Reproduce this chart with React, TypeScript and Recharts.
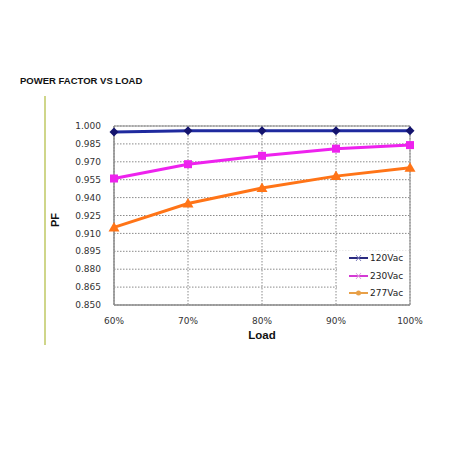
import React from 'react';
import { LineChart, Line, XAxis, YAxis, CartesianGrid, ReferenceArea } from 'recharts';

const loads = ['60%', '70%', '80%', '90%', '100%'];
const pf120 = [0.995, 0.996, 0.996, 0.996, 0.996];
const pf230 = [0.956, 0.968, 0.975, 0.981, 0.984];
const pf277 = [0.915, 0.935, 0.948, 0.958, 0.965];
const yTicks = [0.85, 0.865, 0.88, 0.895, 0.91, 0.925, 0.94, 0.955, 0.97, 0.985, 1.0];

const series = [
  { key: 'v120', name: '120Vac', legendColor: '#2a2a80' },
  { key: 'v230', name: '230Vac', legendColor: '#d43ad4' },
  { key: 'v277', name: '277Vac', legendColor: '#e8a048' },
];

const data = loads.map((load, i) => ({ load, v120: pf120[i], v230: pf230[i], v277: pf277[i] }));

const FONT = '"Liberation Sans", Arial, sans-serif';
const TICK_FONT = '"DejaVu Sans", sans-serif';

// marker shapes per series
const Diamond = (p: any) => {
  const { cx, cy } = p;
  if (cx == null || cy == null) return null;
  return <path key={p.index} d={`M${cx},${cy - 4.5}L${cx + 4.5},${cy}L${cx},${cy + 4.5}L${cx - 4.5},${cy}Z`} fill="#14146e" />;
};
const Square = (p: any) => {
  const { cx, cy } = p;
  if (cx == null || cy == null) return null;
  return <rect key={p.index} x={cx - 4} y={cy - 4} width={8} height={8} fill="#ee22ee" />;
};
const Triangle = (p: any) => {
  const { cx, cy } = p;
  if (cx == null || cy == null) return null;
  return <path key={p.index} d={`M${cx},${cy - 5.5}L${cx + 5.5},${cy + 4}L${cx - 5.5},${cy + 4}Z`} fill="#ff7417" />;
};

const LegendBox = () => (
  <div style={{ position: 'absolute', left: 337, top: 251, background: '#fff', width: 72, height: 52, fontFamily: TICK_FONT, fontSize: 9, color: '#222' }}>
    {series.map((s, i) => (
      <div key={s.key} style={{ position: 'absolute', left: 12, top: 2 + i * 17.5, display: 'flex', alignItems: 'center' }}>
        <svg width={20} height={10}>
          <line x1={0} y1={5} x2={19} y2={5} stroke={s.legendColor} strokeWidth={2} />
          {i === 2 ? (
            <circle cx={9.5} cy={5} r={2.5} fill={s.legendColor} />
          ) : (
            <path d="M7,2L12,8M12,2L7,8" stroke={i === 0 ? '#8080c0' : '#e0a0e0'} strokeWidth={1} />
          )}
        </svg>
        <span style={{ marginLeft: 1 }}>{s.name}</span>
      </div>
    ))}
  </div>
);

export default function App() {
  return (
    <div style={{ position: 'absolute', left: 0, top: 0, width: 458, height: 458, background: '#fff' }}>
      <div style={{ position: 'absolute', left: 20, top: 75, fontFamily: FONT, fontWeight: 'bold', fontSize: 9.5, color: '#111' }}>
        POWER FACTOR VS LOAD
      </div>
      <div style={{ position: 'absolute', left: 44, top: 96, width: 1.5, height: 249, background: '#cfd68a' }} />
      <div
        style={{
          position: 'absolute', left: 47, top: 213, width: 16, height: 14, fontFamily: FONT, fontWeight: 'bold',
          fontSize: 11, color: '#111', transform: 'rotate(-90deg)', textAlign: 'center', lineHeight: '14px',
        }}
      >
        PF
      </div>
      <div style={{ position: 'absolute', left: 245, top: 329, width: 34, textAlign: 'center', fontFamily: FONT, fontWeight: 'bold', fontSize: 11.5, color: '#111' }}>
        Load
      </div>
      <LineChart width={458} height={458} data={data} margin={{ top: 126, right: 48, bottom: 113, left: 40 }}>
        <CartesianGrid stroke="#8a8a8a" strokeDasharray="1.5 1.5" />
        <XAxis
          dataKey="load"
          axisLine={{ stroke: '#8a8a8a' }}
          tickLine={false}
          tickSize={0}
          tickMargin={13}
          height={40}
          interval={0}
          tick={{ fontFamily: TICK_FONT, fontSize: 9, fill: '#333' }}
        />
        <YAxis
          domain={[0.85, 1.0]}
          ticks={yTicks}
          interval={0}
          allowDataOverflow
          width={74}
          axisLine={{ stroke: '#8a8a8a' }}
          tickLine={false}
          tickSize={0}
          tickMargin={13}
          tickFormatter={(v: number) => v.toFixed(3)}
          tick={{ fontFamily: TICK_FONT, fontSize: 9, fill: '#333' }}
        />
        <ReferenceArea x1="60%" x2="100%" y1={0.85} y2={1.0} fill="none" stroke="#8a8a8a" strokeWidth={1} />
        <Line dataKey="v277" name="277Vac" stroke="#ff7417" strokeWidth={3} dot={Triangle} isAnimationActive={false} />
        <Line dataKey="v230" name="230Vac" stroke="#ee22ee" strokeWidth={3} dot={Square} isAnimationActive={false} />
        <Line dataKey="v120" name="120Vac" stroke="#1f2a9e" strokeWidth={3} dot={Diamond} isAnimationActive={false} />
      </LineChart>
      <LegendBox />
    </div>
  );
}
